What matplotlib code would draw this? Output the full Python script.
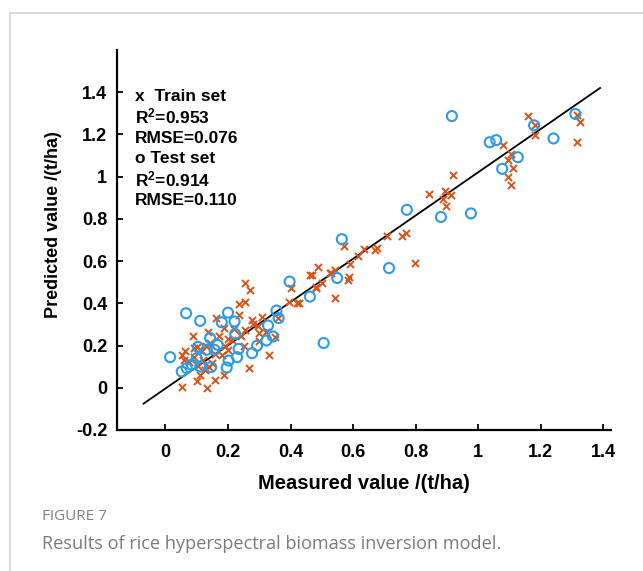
import matplotlib
matplotlib.use("Agg")
import matplotlib.pyplot as plt
from matplotlib.lines import Line2D

plt.rcParams["font.family"] = ["Liberation Sans", "DejaVu Sans"]
plt.rcParams["font.weight"] = "bold"
plt.rcParams["mathtext.fontset"] = "custom"
plt.rcParams["mathtext.bf"] = "Liberation Sans:bold"
plt.rcParams["mathtext.rm"] = "Liberation Sans:bold"
plt.rcParams["mathtext.default"] = "bf"

# Train set (orange x): measured vs predicted, t/ha
train_x = [1.161, 1.181, 1.183, 1.316, 1.327, 1.316, 1.081, 1.106, 1.094, 1.113,
           1.097, 1.106, 0.919, 0.842, 0.894, 0.912, 0.888, 0.896, 0.799, 0.770,
           0.755, 0.709, 0.678, 0.670, 0.636, 0.616, 0.589, 0.571, 0.488, 0.469,
           0.528, 0.587, 0.584, 0.542, 0.426, 0.501, 0.480, 0.525, 0.541,
           0.253, 0.271, 0.255, 0.234, 0.394, 0.421, 0.463, 0.480, 0.403, 0.360,
           0.309, 0.277, 0.296, 0.330, 0.266, 0.234, 0.255, 0.243, 0.298, 0.320,
           0.213, 0.161, 0.087, 0.052, 0.052, 0.100, 0.132, 0.157, 0.111, 0.127,
           0.074, 0.090, 0.186, 0.136, 0.170, 0.143, 0.117, 0.100, 0.063, 0.180,
           0.186, 0.104, 0.148, 0.130, 0.200, 0.250, 0.220, 0.280, 0.300, 0.350,
           0.120, 0.090, 0.160, 0.060, 0.200, 0.140, 0.190]
train_y = [1.286, 1.247, 1.195, 1.292, 1.259, 1.166, 1.149, 1.106, 1.081, 1.039,
           0.999, 0.961, 1.007, 0.919, 0.931, 0.911, 0.892, 0.860, 0.590, 0.734,
           0.719, 0.717, 0.663, 0.652, 0.657, 0.626, 0.588, 0.673, 0.572, 0.534,
           0.545, 0.523, 0.511, 0.427, 0.400, 0.495, 0.471, 0.542, 0.558,
           0.495, 0.463, 0.408, 0.396, 0.408, 0.400, 0.534, 0.479, 0.471, 0.330,
           0.337, 0.322, 0.293, 0.156, 0.093, 0.345, 0.274, 0.243, 0.259, 0.266,
           0.227, 0.330, 0.243, 0.156, 0.006, 0.030, -0.001, 0.038, 0.061, 0.085,
           0.124, 0.148, 0.282, 0.266, 0.243, 0.211, 0.172, 0.195, 0.172, 0.156,
           0.061, 0.101, 0.117, 0.200, 0.180, 0.200, 0.280, 0.300, 0.220, 0.240,
           0.130, 0.190, 0.160, 0.130, 0.230, 0.100, 0.200]

# Test set (blue o)
test_x = [0.916, 1.037, 1.058, 1.179, 1.311, 1.241, 1.127, 1.077, 0.772, 0.881,
          0.977, 0.564, 0.715, 0.549, 0.506, 0.462, 0.397, 0.355, 0.362, 0.066,
          0.111, 0.200, 0.180, 0.221, 0.223, 0.328, 0.344, 0.323, 0.293, 0.277,
          0.234, 0.143, 0.167, 0.157, 0.132, 0.104, 0.015, 0.052, 0.068, 0.084,
          0.111, 0.146, 0.196, 0.202, 0.229, 0.100]
test_y = [1.287, 1.163, 1.173, 1.243, 1.297, 1.181, 1.092, 1.037, 0.843, 0.809,
          0.826, 0.704, 0.567, 0.520, 0.212, 0.432, 0.503, 0.366, 0.330, 0.353,
          0.317, 0.356, 0.310, 0.314, 0.255, 0.295, 0.243, 0.224, 0.199, 0.164,
          0.184, 0.235, 0.203, 0.180, 0.180, 0.194, 0.145, 0.077, 0.093, 0.109,
          0.101, 0.098, 0.096, 0.129, 0.145, 0.140]

# fitted line end points
line_x = [-0.07, 1.39]
line_y = [-0.075, 1.42]

x_ticks = [0, 0.2, 0.4, 0.6, 0.8, 1.0, 1.2, 1.4]
x_tick_labels = ["0", "0.2", "0.4", "0.6", "0.8", "1", "1.2", "1.4"]
y_ticks = [-0.2, 0, 0.2, 0.4, 0.6, 0.8, 1.0, 1.2, 1.4]
y_tick_labels = ["-0.2", "0", "0.2", "0.4", "0.6", "0.8", "1", "1.2", "1.4"]

stats_lines = ["x  Train set", "R$^2$=0.953", "RMSE=0.076",
               "o Test set", "R$^2$=0.914", "RMSE=0.110"]

ORANGE = "#D95319"
BLUE = "#2C9BE3"

fig = plt.figure(figsize=(6.43, 5.71), dpi=100)

# card frame (light gray top and left border)
fig.add_artist(Line2D([10 / 643, 1], [1 - 13 / 571, 1 - 13 / 571],
                      color="#d6d6d6", lw=1.2))
fig.add_artist(Line2D([10 / 643, 10 / 643], [0, 1 - 13 / 571],
                      color="#d6d6d6", lw=1.2))

ax = fig.add_axes([117 / 643, (571 - 430) / 571, 494 / 643, 380 / 571])

ax.plot(line_x, line_y, color="black", lw=1.3, zorder=1)
ax.scatter(train_x, train_y, marker="x", s=26, color=ORANGE, linewidths=1.4,
           zorder=2)
ax.scatter(test_x, test_y, marker="o", s=52, facecolors="none",
           edgecolors=BLUE, linewidths=1.5, zorder=3)

ax.set_xlim(-0.155, 1.425)
ax.set_ylim(-0.2, 1.6)
ax.set_xticks(x_ticks)
ax.set_xticklabels(x_tick_labels)
ax.set_yticks(y_ticks)
ax.set_yticklabels(y_tick_labels)

ax.spines["top"].set_visible(False)
ax.spines["right"].set_visible(False)
ax.spines["left"].set_linewidth(1.6)
ax.spines["bottom"].set_linewidth(1.6)
ax.tick_params(direction="in", length=4, width=1.3, labelsize=13)
ax.tick_params(axis="y", pad=7)
ax.tick_params(axis="x", pad=10)

ax.set_xlabel("Measured value /(t/ha)", fontsize=14.5, fontweight="bold")
ax.set_ylabel("Predicted value /(t/ha)", fontsize=13, fontweight="bold")
ax.xaxis.set_label_coords(0.5, -0.115)
ax.yaxis.set_label_coords(-0.112, 0.54)

# annotation block, baselines
line_pos = [0.8666, 0.8079, 0.756, 0.7034, 0.6403, 0.592]
for txt, yy in zip(stats_lines, line_pos):
    ax.text(0.036, yy, txt, transform=ax.transAxes, fontsize=12.5,
            fontweight="bold", va="baseline", ha="left")

# caption
fig.text(42 / 643, 1 - 517 / 571, "FIGURE 7", fontsize=11,
         family=["Open Sans", "DejaVu Sans"], fontweight="normal",
         color="#808080", va="center", ha="left")
fig.text(42 / 643, 1 - 544 / 571,
         "Results of rice hyperspectral biomass inversion model.",
         fontsize=13.1, family=["Open Sans", "DejaVu Sans"],
         fontweight="normal", color="#7a7a7a", va="center", ha="left")

fig.savefig("out.png", dpi=100)
